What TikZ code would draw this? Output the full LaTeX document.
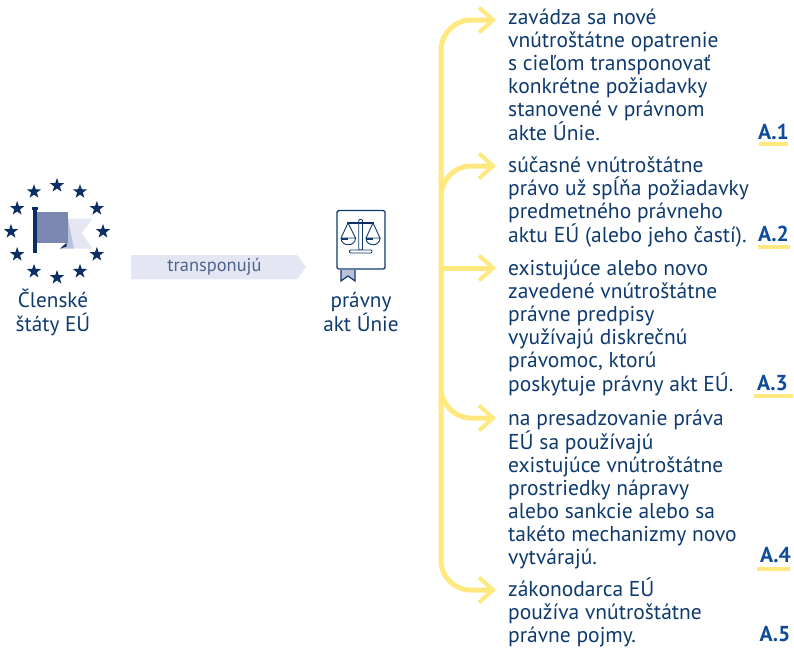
\documentclass[tikz,border=0pt]{standalone}
\usepackage{fontspec}
\setmainfont{PT Sans}
\usetikzlibrary{shapes.geometric}
\definecolor{navy}{HTML}{0E3A6E}
\definecolor{flagnavy}{HTML}{0B2F64}
\definecolor{ablue}{HTML}{0E4C9A}
\definecolor{yel}{HTML}{FFE97F}
\definecolor{pale}{HTML}{E4E7F3}
\definecolor{mid}{HTML}{7A87AE}
\definecolor{midl}{HTML}{BAC1D8}
\definecolor{trtext}{HTML}{4F648C}
\tikzset{
 x=1pt,y=-1pt,
 txt/.style={inner sep=0pt,anchor=north west,align=left,text=navy,font=\fontsize{21.5}{22.9}\selectfont},
 ctr/.style={inner sep=0pt,align=center,text=navy,font=\fontsize{21.2}{24}\selectfont},
 tag/.style={inner sep=0pt,text=ablue,font=\fontsize{21.6}{24}\selectfont\bfseries},
 ul/.style={draw=yel,line width=3.6pt},
 flow/.style={draw=yel,line width=5pt,line cap=butt},
 hd/.style={draw=yel,line width=4pt,line cap=butt},
 eustar/.style={star,star points=5,star point ratio=2.5,fill=flagnavy,inner sep=0pt,minimum size=15pt},
}
\newcommand{\ahead}[1]{\draw[hd] ([shift={(-14,-12.5)}]#1) -- (#1) -- ([shift={(-14,12.5)}]#1);}
\begin{document}
\begin{tikzpicture}
\useasboundingbox (0,0) rectangle (794,648);
% stars
\foreach \ang in {0,30,...,330}{
 \node[eustar] (s\ang) at ({57+46*cos(\ang)},{231.5+46*sin(\ang)}) {};
}
% flag
\fill[pale] (68,218.5) -- (92.7,218.5) -- (81.7,233) -- (92.7,248.7) -- (74,248.7) -- cycle;
\fill[midl] (68,218.5) -- (74,248.7) -- (60,248.7) -- (68,242.7) -- cycle;
\fill[flagnavy] (60,248.7) -- (66.5,242.7) -- (66.5,246.5) -- cycle;
\fill[mid] (36,211.7) rectangle (68,242.7);
\fill[flagnavy] (33,208) rectangle (36.7,253);
\fill[flagnavy] (32,206.5) rectangle (38,210);
\node[ctr] (ms) at (53,312) {Členské\\štáty EÚ};
% transposition arrow
\fill[pale] (131,255) -- (297,255) -- (306,267) -- (297,279.4) -- (131,279.4) -- cycle;
\node[inner sep=0pt,text=trtext,font=\fontsize{18.4}{20}\selectfont] (tr) at (214.5,267) {transponujú};
% legal act icon
\draw[navy,line width=1.4pt,fill=white,rounded corners=1.5pt] (337,210.5) rectangle (385,269);
\fill[midl] (341,270) -- (355,270) -- (355,281) -- (348,276) -- (341,281) -- cycle;
\draw[navy,line width=1.2pt] (341,270) -- (341,281) -- (348,276) -- (355,281) -- (355,270);
\draw[navy,line width=.8pt,fill=white,rounded corners=1pt] (358.8,219.5) rectangle (362.5,250);
\draw[navy,line width=.8pt,fill=white,rounded corners=1pt] (349.5,250) rectangle (372,253);
\draw[flagnavy,line width=1.5pt] (347,223) -- (374,223);
\draw[navy,line width=.9pt] (341,238) -- (348,223) -- (355.5,238);
\draw[navy,line width=.9pt] (366,238) -- (373,223) -- (380,238);
\draw[navy,line width=.9pt] (341,238) -- (355.5,238) .. controls (355.5,247) and (341,247) .. (341,238);
\draw[navy,line width=.9pt] (366,238) -- (380,238) .. controls (380,247) and (366,247) .. (366,238);
\fill[navy] (341,237.5) rectangle (348,240);
\fill[navy] (366,237.5) rectangle (373,240);
\node[ctr] (act) at (361,312) {právny\\akt Únie};
% text
\node[txt] (t1) at (508,9) {zavádza sa nové\\vnútroštátne opatrenie\\s cieľom transponovať\\konkrétne požiadavky\\stanovené v právnom\\akte Únie.};
\node[txt] (t2) at (508,157) {súčasné vnútroštátne\\právo už spĺňa požiadavky\\predmetného právneho\\aktu EÚ (alebo jeho častí).};
\node[txt] (t3) at (508,260) {existujúce alebo novo\\zavedené vnútroštátne\\právne predpisy\\využívajú diskrečnú\\právomoc, ktorú\\poskytuje právny akt EÚ.};
\node[txt] (t4) at (508,410) {na presadzovanie práva\\EÚ sa používajú\\existujúce vnútroštátne\\prostriedky nápravy\\alebo sankcie alebo sa\\takéto mechanizmy novo\\vytvárajú.};
\node[txt] (t5) at (508,578) {zákonodarca EÚ\\používa vnútroštátne\\právne pojmy.};
% connectors
\coordinate (h) at (441,268);
\coordinate (a1) at (493,20);
\coordinate (a2) at (493,166);
\coordinate (a3) at (493,268);
\coordinate (a4) at (493,418);
\coordinate (a5) at (493,590);
\draw[flow] (a1) -- (470,20) .. controls (455,20) and (441,34) .. (441,50) -- (441,561) .. controls (441,577) and (455,590) .. (470,590) -- (a5);
\draw[flow] (441,197) .. controls (441,180) and (455,166) .. (470,166) -- (a2);
\draw[flow] (h) -- (a3);
\draw[flow] (441,388) .. controls (441,404) and (455,418) .. (470,418) -- (a4);
\ahead{a1}\ahead{a2}\ahead{a3}\ahead{a4}\ahead{a5}
% tags
\node[tag] (A1) at (773.5,132) {A.1};
\draw[ul] (759,144) -- (788,144);
\node[tag] (A2) at (773.5,234) {A.2};
\draw[ul] (758,247) -- (790,247);
\node[tag] (A3) at (772.5,383) {A.3};
\draw[ul] (754,396) -- (793,396);
\node[tag] (A4) at (775.5,555) {A.4};
\draw[ul] (757,569) -- (790,569);
\node[tag] (A5) at (775,634) {A.5};
\end{tikzpicture}
\end{document}
